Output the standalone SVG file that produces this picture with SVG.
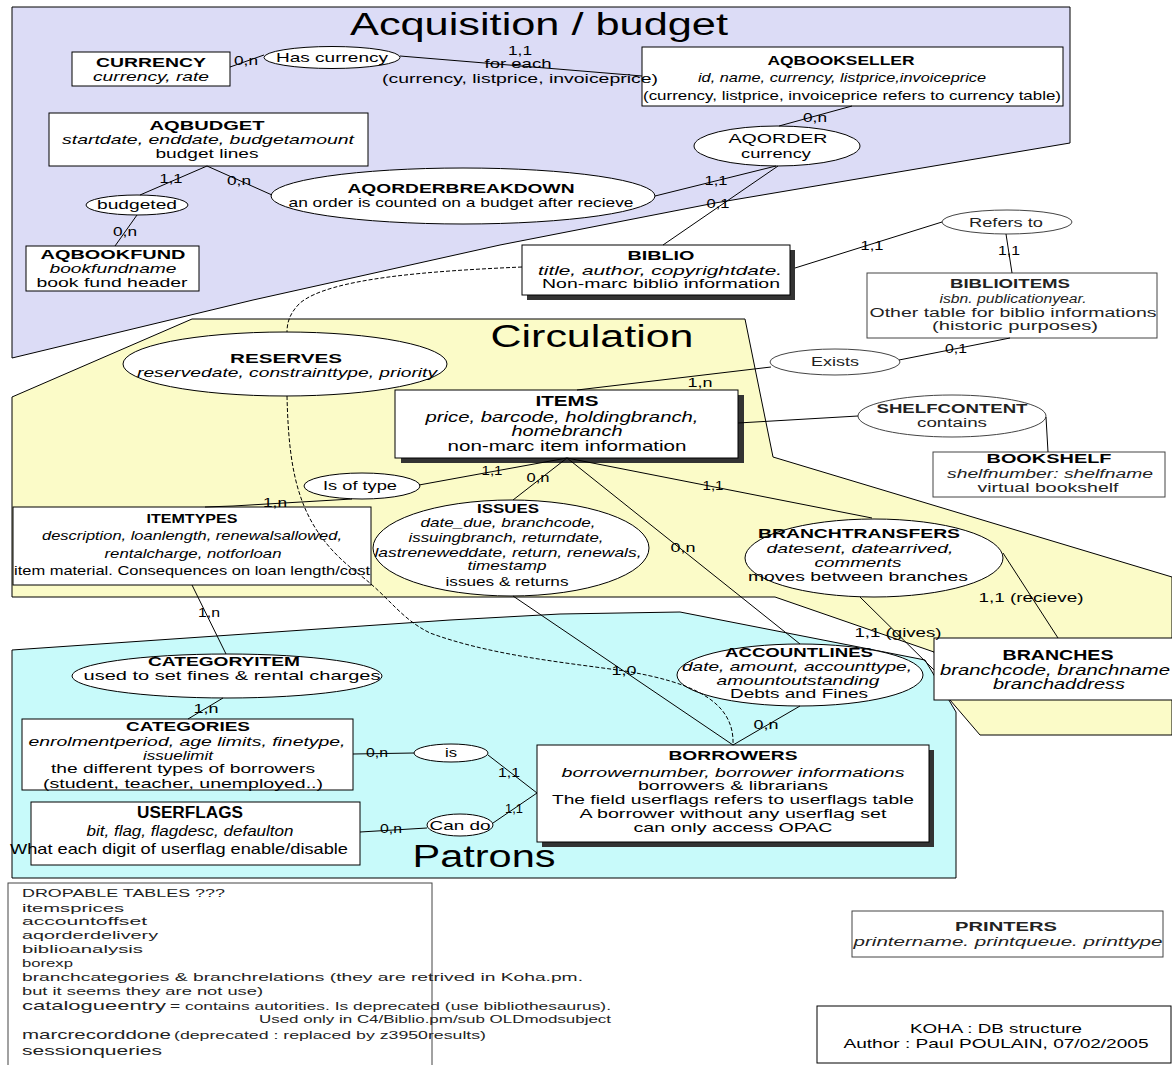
<svg xmlns="http://www.w3.org/2000/svg" width="1172" height="1065" viewBox="0 0 1172 1065">
<style>
text{font-family:"Liberation Sans",Arial,sans-serif;font-size:13.5px;fill:#000}
.t{text-anchor:middle}
.b{font-weight:bold}
.i{font-style:italic}
.c{font-size:12.5px}
.h{font-size:31px}
.s{font-size:12.5px;fill:#222}
.d{font-size:11.5px;fill:#222}
.L{font-size:13.5px;fill:#222}
.box{fill:#fff;stroke:#000;stroke-width:1}
.lt{fill:#fff;stroke:#444;stroke-width:1}
.sh{fill:#333}
.ln{stroke:#000;stroke-width:1;fill:none}
.dash{stroke:#000;stroke-width:1;fill:none;stroke-dasharray:4 2}
</style>
<rect width="1172" height="1065" fill="#fff"/>
<g id="regions" stroke="#000" stroke-width="1">
<polygon id="acquisition" points="12,7 1070,7 1070,143 715,203 500,245 253,300 12,358" fill="#dcdcf6"/>
<polygon id="circulation" points="192,319 745,319 773,457 1172,577 1172,735 980,735 950,700 934,652 775,597 12,597 12,397" fill="#fbfbc8"/>
<polygon id="patrons" points="12,650 450,620 560,614 680,612 925,660 956,712 956,878 12,878" fill="#c8fafa"/>
</g>
<g id="titles">
<text class="t h" x="539" y="35" textLength="378" lengthAdjust="spacingAndGlyphs">Acquisition / budget</text>
<text class="t h" x="592" y="347" textLength="203" lengthAdjust="spacingAndGlyphs">Circulation</text>
<text class="t h" x="484" y="867" textLength="143" lengthAdjust="spacingAndGlyphs">Patrons</text>
</g>
<g id="currency">
<rect class="box" x="72" y="52" width="158" height="34"/>
<text class="t b" x="151" y="67" textLength="110" lengthAdjust="spacingAndGlyphs">CURRENCY</text>
<text class="t i" x="151" y="81" textLength="116" lengthAdjust="spacingAndGlyphs">currency, rate</text>
</g>
<g id="has-currency">
<ellipse class="box" cx="332" cy="57.5" rx="68" ry="11"/>
<text class="t" x="332" y="62" textLength="112" lengthAdjust="spacingAndGlyphs">Has currency</text>
</g>
<g id="aqbookseller">
<rect class="box" x="642" y="47" width="421" height="59"/>
<text class="t b" x="841" y="65" textLength="147" lengthAdjust="spacingAndGlyphs">AQBOOKSELLER</text>
<text class="t i" x="842" y="82" textLength="288" lengthAdjust="spacingAndGlyphs">id, name, currency, listprice,invoiceprice</text>
<text class="t" x="852" y="100" textLength="418" lengthAdjust="spacingAndGlyphs">(currency, listprice, invoiceprice refers to currency table)</text>
</g>
<g id="aqbudget">
<rect class="box" x="49" y="113" width="319" height="53"/>
<text class="t b" x="207" y="130" textLength="115" lengthAdjust="spacingAndGlyphs">AQBUDGET</text>
<text class="t i" x="208" y="144" textLength="292" lengthAdjust="spacingAndGlyphs">startdate, enddate, budgetamount</text>
<text class="t" x="207" y="158" textLength="103" lengthAdjust="spacingAndGlyphs">budget lines</text>
</g>
<g id="budgeted">
<ellipse class="box" cx="137" cy="205" rx="51" ry="10"/>
<text class="t" x="137" y="209" textLength="80" lengthAdjust="spacingAndGlyphs">budgeted</text>
</g>
<g id="aqbookfund">
<rect class="box" x="26" y="246" width="173" height="45"/>
<text class="t b" x="113" y="259" textLength="145" lengthAdjust="spacingAndGlyphs">AQBOOKFUND</text>
<text class="t i" x="113" y="273" textLength="127" lengthAdjust="spacingAndGlyphs">bookfundname</text>
<text class="t" x="112" y="287" textLength="151" lengthAdjust="spacingAndGlyphs">book fund header</text>
</g>
<g id="aqorderbreakdown">
<ellipse class="box" cx="463" cy="196" rx="192" ry="28"/>
<text class="t b" x="461" y="193" textLength="227" lengthAdjust="spacingAndGlyphs">AQORDERBREAKDOWN</text>
<text class="t" x="461" y="207" textLength="345" lengthAdjust="spacingAndGlyphs">an order is counted on a budget after recieve</text>
</g>
<g id="aqorder">
<ellipse class="box" cx="777" cy="146" rx="83" ry="20"/>
<text class="t" x="778" y="143" textLength="99" lengthAdjust="spacingAndGlyphs">AQORDER</text>
<text class="t" x="776" y="158" textLength="70" lengthAdjust="spacingAndGlyphs">currency</text>
</g>
<g id="biblio">
<rect class="sh" x="527" y="250" width="268" height="50"/>
<rect class="box" x="522" y="245" width="268" height="50"/>
<text class="t b" x="661" y="260" textLength="67" lengthAdjust="spacingAndGlyphs">BIBLIO</text>
<text class="t i" x="660" y="275" textLength="244" lengthAdjust="spacingAndGlyphs">title, author, copyrightdate.</text>
<text class="t" x="661" y="288" textLength="238" lengthAdjust="spacingAndGlyphs">Non-marc biblio information</text>
</g>
<g id="refers-to">
<ellipse class="lt" cx="1007" cy="222" rx="65" ry="12"/>
<text class="t s" x="1006" y="227" textLength="74" lengthAdjust="spacingAndGlyphs">Refers to</text>
</g>
<g id="biblioitems">
<rect class="lt" x="867" y="273" width="290" height="65"/>
<text class="t b s" x="1010" y="288" textLength="120" lengthAdjust="spacingAndGlyphs">BIBLIOITEMS</text>
<text class="t i s" x="1013" y="303" textLength="147" lengthAdjust="spacingAndGlyphs">isbn. publicationyear.</text>
<text class="t s" x="1013" y="317" textLength="287" lengthAdjust="spacingAndGlyphs">Other table for biblio informations</text>
<text class="t s" x="1015" y="330" textLength="166" lengthAdjust="spacingAndGlyphs">(historic purposes)</text>
</g>
<g id="exists">
<ellipse class="lt" cx="835" cy="362" rx="65" ry="13"/>
<text class="t s" x="835" y="366" textLength="48" lengthAdjust="spacingAndGlyphs">Exists</text>
</g>
<g id="reserves">
<ellipse class="box" cx="285" cy="364" rx="162" ry="32"/>
<text class="t b" x="286" y="363" textLength="112" lengthAdjust="spacingAndGlyphs">RESERVES</text>
<text class="t i" x="287" y="377" textLength="300" lengthAdjust="spacingAndGlyphs">reservedate, constrainttype, priority</text>
</g>
<g id="items">
<rect class="sh" x="401" y="395" width="343" height="68"/>
<rect class="box" x="395" y="390" width="343" height="68"/>
<text class="t b" x="567" y="406" textLength="63" lengthAdjust="spacingAndGlyphs" style="font-size:14.5px">ITEMS</text>
<text class="t i" x="562" y="422" textLength="273" lengthAdjust="spacingAndGlyphs" style="font-size:14.5px">price, barcode, holdingbranch,</text>
<text class="t i" x="567" y="436" textLength="111" lengthAdjust="spacingAndGlyphs" style="font-size:14.5px">homebranch</text>
<text class="t" x="567" y="451" textLength="239" lengthAdjust="spacingAndGlyphs" style="font-size:14.5px">non-marc item information</text>
</g>
<g id="shelfcontent">
<ellipse class="lt" cx="952" cy="416" rx="94" ry="21"/>
<text class="t b s" x="952" y="413" textLength="151" lengthAdjust="spacingAndGlyphs">SHELFCONTENT</text>
<text class="t s" x="952" y="427" textLength="70" lengthAdjust="spacingAndGlyphs">contains</text>
</g>
<g id="bookshelf">
<rect class="lt" x="933" y="452" width="232" height="45"/>
<text class="t b" x="1049" y="463" textLength="125" lengthAdjust="spacingAndGlyphs">BOOKSHELF</text>
<text class="t i s" x="1050" y="478" textLength="206" lengthAdjust="spacingAndGlyphs">shelfnumber: shelfname</text>
<text class="t s" x="1048" y="492" textLength="141" lengthAdjust="spacingAndGlyphs">virtual bookshelf</text>
</g>
<g id="is-of-type">
<ellipse class="box" cx="362" cy="486" rx="58" ry="13"/>
<text class="t" x="360" y="490" textLength="74" lengthAdjust="spacingAndGlyphs">Is of type</text>
</g>
<g id="itemtypes">
<rect class="box" x="13" y="507" width="358" height="78"/>
<text class="t b" x="192" y="523" textLength="91" lengthAdjust="spacingAndGlyphs">ITEMTYPES</text>
<text class="t i" x="192" y="540" textLength="300" lengthAdjust="spacingAndGlyphs">description, loanlength, renewalsallowed,</text>
<text class="t i" x="193" y="558" textLength="177" lengthAdjust="spacingAndGlyphs">rentalcharge, notforloan</text>
<text class="t" x="192" y="575" textLength="356" lengthAdjust="spacingAndGlyphs">item material. Consequences on loan length/cost</text>
</g>
<g id="issues">
<ellipse class="box" cx="511" cy="548" rx="138" ry="48"/>
<text class="t b" x="508" y="513" textLength="62" lengthAdjust="spacingAndGlyphs">ISSUES</text>
<text class="t i" x="508" y="527" textLength="175" lengthAdjust="spacingAndGlyphs">date_due, branchcode,</text>
<text class="t i" x="506" y="542" textLength="195" lengthAdjust="spacingAndGlyphs">issuingbranch, returndate,</text>
<text class="t i" x="508" y="557" textLength="267" lengthAdjust="spacingAndGlyphs">lastreneweddate, return, renewals,</text>
<text class="t i" x="507" y="570" textLength="79" lengthAdjust="spacingAndGlyphs">timestamp</text>
<text class="t" x="507" y="586" textLength="123" lengthAdjust="spacingAndGlyphs">issues &amp; returns</text>
</g>
<g id="branchtransfers">
<ellipse class="box" cx="874" cy="558" rx="129" ry="39"/>
<text class="t b" x="859" y="538" textLength="202" lengthAdjust="spacingAndGlyphs">BRANCHTRANSFERS</text>
<text class="t i" x="860" y="553" textLength="187" lengthAdjust="spacingAndGlyphs">datesent, datearrived,</text>
<text class="t i" x="858" y="567" textLength="87" lengthAdjust="spacingAndGlyphs">comments</text>
<text class="t" x="858" y="581" textLength="220" lengthAdjust="spacingAndGlyphs">moves between branches</text>
</g>
<g id="branches">
<rect class="box" x="934" y="638" width="245" height="62"/>
<text class="t b" x="1058" y="660" textLength="111" lengthAdjust="spacingAndGlyphs" style="font-size:15px">BRANCHES</text>
<text class="t i" x="1055" y="675" textLength="230" lengthAdjust="spacingAndGlyphs" style="font-size:14.5px">branchcode, branchname</text>
<text class="t i" x="1059" y="689" textLength="132" lengthAdjust="spacingAndGlyphs" style="font-size:14.5px">branchaddress</text>
</g>
<g id="accountlines">
<ellipse class="box" cx="800" cy="675" rx="123" ry="31"/>
<text class="t b" x="799" y="657" textLength="148" lengthAdjust="spacingAndGlyphs">ACCOUNTLINES</text>
<text class="t i" x="797" y="671" textLength="230" lengthAdjust="spacingAndGlyphs">date, amount, accounttype,</text>
<text class="t i" x="798" y="685" textLength="163" lengthAdjust="spacingAndGlyphs">amountoutstanding</text>
<text class="t" x="799" y="698" textLength="138" lengthAdjust="spacingAndGlyphs">Debts and Fines</text>
</g>
<g id="categoryitem">
<ellipse class="box" cx="227" cy="676" rx="155" ry="22"/>
<text class="t b" x="224" y="666" textLength="152" lengthAdjust="spacingAndGlyphs">CATEGORYITEM</text>
<text class="t" x="232" y="680" textLength="297" lengthAdjust="spacingAndGlyphs">used to set fines &amp; rental charges</text>
</g>
<g id="categories">
<rect class="box" x="22" y="719" width="331" height="71"/>
<text class="t b" x="188" y="731" textLength="124" lengthAdjust="spacingAndGlyphs">CATEGORIES</text>
<text class="t i" x="187" y="746" textLength="317" lengthAdjust="spacingAndGlyphs">enrolmentperiod, age limits, finetype,</text>
<text class="t i" x="178" y="760" textLength="70" lengthAdjust="spacingAndGlyphs">issuelimit</text>
<text class="t" x="183" y="773" textLength="264" lengthAdjust="spacingAndGlyphs">the different types of borrowers</text>
<text class="t" x="183" y="788" textLength="280" lengthAdjust="spacingAndGlyphs">(student, teacher, unemployed..)</text>
</g>
<g id="is">
<ellipse class="box" cx="451" cy="753" rx="37" ry="9"/>
<text class="t" x="451" y="757" textLength="12" lengthAdjust="spacingAndGlyphs">is</text>
</g>
<g id="userflags">
<rect class="box" x="31" y="802" width="329" height="63"/>
<text class="t b" x="190" y="818" textLength="106" lengthAdjust="spacingAndGlyphs" style="font-size:16px">USERFLAGS</text>
<text class="t i" x="190" y="836" textLength="207" lengthAdjust="spacingAndGlyphs" style="font-size:14.5px">bit, flag, flagdesc, defaulton</text>
<text class="t" x="179" y="854" textLength="338" lengthAdjust="spacingAndGlyphs" style="font-size:14.5px">What each digit of userflag enable/disable</text>
</g>
<g id="can-do">
<ellipse class="box" cx="460" cy="825" rx="33" ry="11"/>
<text class="t" x="460" y="830" textLength="61" lengthAdjust="spacingAndGlyphs">Can do</text>
</g>
<g id="borrowers">
<rect class="sh" x="542" y="750" width="392" height="97"/>
<rect class="box" x="537" y="745" width="392" height="97"/>
<text class="t b" x="733" y="760" textLength="129" lengthAdjust="spacingAndGlyphs">BORROWERS</text>
<text class="t i" x="733" y="777" textLength="343" lengthAdjust="spacingAndGlyphs">borrowernumber, borrower informations</text>
<text class="t" x="733" y="790" textLength="190" lengthAdjust="spacingAndGlyphs">borrowers &amp; librarians</text>
<text class="t" x="733" y="804" textLength="362" lengthAdjust="spacingAndGlyphs">The field userflags refers to userflags table</text>
<text class="t" x="733" y="818" textLength="307" lengthAdjust="spacingAndGlyphs">A borrower without any userflag set</text>
<text class="t" x="733" y="832" textLength="199" lengthAdjust="spacingAndGlyphs">can only access OPAC</text>
</g>
<g id="connectors">
<path class="ln" d="M230,67 L264,55"/>
<path class="ln" d="M400,56 L642,76"/>
<path class="ln" d="M207,166 L140,195"/>
<path class="ln" d="M207,166 L272,195"/>
<path class="ln" d="M137,215 L115,246"/>
<path class="ln" d="M655,196 L776,166"/>
<path class="ln" d="M852,106 L779,126"/>
<path class="ln" d="M778,166 L663,245"/>
<path class="ln" d="M795,268 L942,222"/>
<path class="ln" d="M1006,234 L1012,273"/>
<path class="ln" d="M1010,338 L899,360"/>
<path class="ln" d="M771,367 L577,390"/>
<path class="ln" d="M738,423 L858,416"/>
<path class="ln" d="M1046,417 L1048,452"/>
<path class="ln" d="M567,458 L419,485"/>
<path class="ln" d="M352,499 L233,506 L205,507"/>
<path class="ln" d="M567,458 L513,500"/>
<path class="ln" d="M567,458 L800,644"/>
<path class="ln" d="M567,458 L872,518"/>
<path class="ln" d="M1003,553 L1058,638"/>
<path class="ln" d="M860,597 L934,670"/>
<path class="ln" d="M192,585 L226,654"/>
<path class="ln" d="M223,698 L188,719"/>
<path class="ln" d="M353,754 L414,753"/>
<path class="ln" d="M488,755 L537,793"/>
<path class="ln" d="M360,832 L427,828"/>
<path class="ln" d="M493,823 L537,793"/>
<path class="ln" d="M513,596 L733,745"/>
<path class="ln" d="M800,706 L733,745"/>
<path class="dash" d="M522,267 C430,271 330,278 300,303 C290,313 287,322 287,332"/>
<path class="dash" d="M287,396 C289,480 300,530 360,575 C390,598 400,618 430,633 C490,655 560,662 625,671 C690,682 735,700 733,745"/>
<text class="t c" x="246" y="65" textLength="24" lengthAdjust="spacingAndGlyphs">0,n</text>
<text class="t c" x="520" y="55" textLength="24" lengthAdjust="spacingAndGlyphs">1,1</text>
<text class="t" x="518" y="68" textLength="67" lengthAdjust="spacingAndGlyphs">for each</text>
<text class="t" x="520" y="83" textLength="276" lengthAdjust="spacingAndGlyphs">(currency, listprice, invoiceprice)</text>
<text class="t c" x="815" y="122" textLength="24" lengthAdjust="spacingAndGlyphs">0,n</text>
<text class="t c" x="171" y="183" textLength="23" lengthAdjust="spacingAndGlyphs">1,1</text>
<text class="t c" x="239" y="185" textLength="24" lengthAdjust="spacingAndGlyphs">0,n</text>
<text class="t c" x="125" y="236" textLength="24" lengthAdjust="spacingAndGlyphs">0,n</text>
<text class="t c" x="716" y="185" textLength="23" lengthAdjust="spacingAndGlyphs">1,1</text>
<text class="t c" x="718" y="208" textLength="23" lengthAdjust="spacingAndGlyphs">0,1</text>
<text class="t c" x="872" y="250" textLength="23" lengthAdjust="spacingAndGlyphs">1,1</text>
<text class="t c" x="1009" y="255" textLength="22" lengthAdjust="spacingAndGlyphs">1,1</text>
<text class="t c" x="956" y="353" textLength="22" lengthAdjust="spacingAndGlyphs">0,1</text>
<text class="t c" x="700" y="387" textLength="25" lengthAdjust="spacingAndGlyphs">1,n</text>
<text class="t c" x="492" y="475" textLength="21" lengthAdjust="spacingAndGlyphs">1,1</text>
<text class="t c" x="538" y="482" textLength="23" lengthAdjust="spacingAndGlyphs">0,n</text>
<text class="t c" x="713" y="490" textLength="21" lengthAdjust="spacingAndGlyphs">1,1</text>
<text class="t c" x="683" y="552" textLength="25" lengthAdjust="spacingAndGlyphs">0,n</text>
<text class="t c" x="275" y="507" textLength="24" lengthAdjust="spacingAndGlyphs">1,n</text>
<text class="t c" x="209" y="617" textLength="22" lengthAdjust="spacingAndGlyphs">1,n</text>
<text class="t" x="1031" y="602" textLength="105" lengthAdjust="spacingAndGlyphs">1,1 (recieve)</text>
<text class="t" x="898" y="637" textLength="87" lengthAdjust="spacingAndGlyphs">1,1 (gives)</text>
<text class="t c" x="624" y="675" textLength="25" lengthAdjust="spacingAndGlyphs">1,0</text>
<text class="t c" x="766" y="729" textLength="25" lengthAdjust="spacingAndGlyphs">0,n</text>
<text class="t c" x="206" y="713" textLength="25" lengthAdjust="spacingAndGlyphs">1,n</text>
<text class="t c" x="377" y="757" textLength="22" lengthAdjust="spacingAndGlyphs">0,n</text>
<text class="t c" x="509" y="777" textLength="22" lengthAdjust="spacingAndGlyphs">1,1</text>
<text class="t c" x="514" y="813" textLength="18" lengthAdjust="spacingAndGlyphs">1,1</text>
<text class="t c" x="391" y="833" textLength="22" lengthAdjust="spacingAndGlyphs">0,n</text>
</g>
<g id="dropable-tables">
<rect class="lt" x="8" y="883" width="424" height="186"/>
<text class="d" x="22" y="897" textLength="203" lengthAdjust="spacingAndGlyphs">DROPABLE TABLES ???</text>
<text class="d" x="22" y="912" textLength="102" lengthAdjust="spacingAndGlyphs">itemsprices</text>
<text class="d" x="22" y="925" textLength="125" lengthAdjust="spacingAndGlyphs">accountoffset</text>
<text class="d" x="22" y="939" textLength="136" lengthAdjust="spacingAndGlyphs">aqorderdelivery</text>
<text class="d" x="22" y="953" textLength="121" lengthAdjust="spacingAndGlyphs">biblioanalysis</text>
<text class="d" x="22" y="967" textLength="51" lengthAdjust="spacingAndGlyphs">borexp</text>
<text class="d" x="22" y="981" textLength="561" lengthAdjust="spacingAndGlyphs">branchcategories &amp; branchrelations (they are retrived in Koha.pm.</text>
<text class="d" x="22" y="995" textLength="241" lengthAdjust="spacingAndGlyphs">but it seems they are not use)</text>
<text class="L" x="22" y="1010" textLength="144" lengthAdjust="spacingAndGlyphs">catalogueentry</text>
<text class="d" x="170" y="1010" textLength="441" lengthAdjust="spacingAndGlyphs">= contains autorities. Is deprecated (use bibliothesaurus).</text>
<text class="d" x="259" y="1023" textLength="352" lengthAdjust="spacingAndGlyphs">Used only in C4/Biblio.pm/sub OLDmodsubject</text>
<text class="L" x="22" y="1039" textLength="149" lengthAdjust="spacingAndGlyphs">marcrecorddone</text>
<text class="d" x="174" y="1039" textLength="312" lengthAdjust="spacingAndGlyphs">(deprecated : replaced by z3950results)</text>
<text class="L" x="22" y="1055" textLength="140" lengthAdjust="spacingAndGlyphs">sessionqueries</text>
</g>
<g id="printers">
<rect class="lt" x="852" y="911" width="311" height="46"/>
<text class="t b s" x="1006" y="931" textLength="102" lengthAdjust="spacingAndGlyphs">PRINTERS</text>
<text class="t i s" x="1008" y="946" textLength="309" lengthAdjust="spacingAndGlyphs">printername. printqueue. printtype</text>
</g>
<g id="koha">
<rect class="box" x="817" y="1006" width="354" height="57"/>
<text class="t" x="996" y="1033" textLength="172" lengthAdjust="spacingAndGlyphs">KOHA : DB structure</text>
<text class="t" x="996" y="1048" textLength="305" lengthAdjust="spacingAndGlyphs">Author : Paul POULAIN, 07/02/2005</text>
</g>
</svg>
